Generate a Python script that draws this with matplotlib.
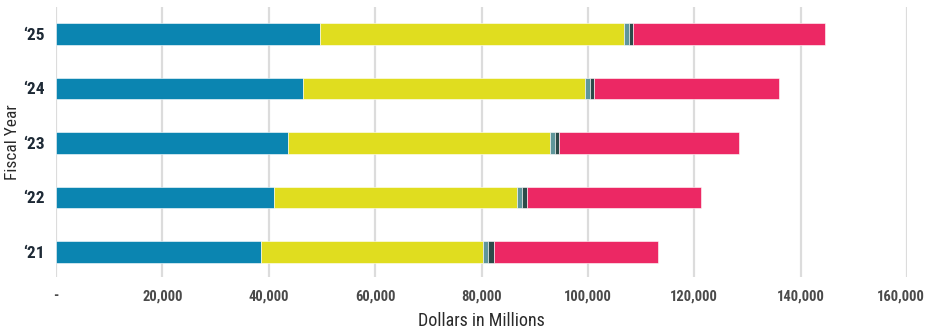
import matplotlib
matplotlib.use("Agg")
import matplotlib.pyplot as plt
from matplotlib import font_manager
import matplotlib.transforms as mtransforms
import numpy as np

years = ["\u201821", "\u201822", "\u201823", "\u201824", "\u201825"]
seg_blue = [38.5, 41.0, 43.6, 46.4, 49.6]
seg_yellow = [41.8, 45.6, 49.3, 53.0, 57.2]
seg_gray = [0.9, 1.0, 0.9, 1.0, 1.0]
seg_dark = [1.1, 1.0, 0.8, 0.7, 0.7]
seg_pink = [30.9, 32.6, 33.8, 34.8, 36.0]
series = [seg_blue, seg_yellow, seg_gray, seg_dark, seg_pink]
colors = ["#0b85b1", "#e0dd1f", "#5f969b", "#2c4b49", "#ec2864"]
xticks = [0, 20000, 40000, 60000, 80000, 100000, 120000, 140000, 160000]
xticklabels = ["-", "20,000", "40,000", "60,000", "80,000", "100,000", "120,000", "140,000", "160,000"]

avail = {f.name for f in font_manager.fontManager.ttflist}
fam = "Roboto"
for cand in ["Roboto Condensed", "Liberation Sans Narrow", "Open Sans Condensed", "Roboto"]:
    if cand in avail:
        fam = cand
        break

fig = plt.figure(figsize=(9.27, 3.35), dpi=100)
ax = fig.add_axes([56 / 927, 1 - 277 / 335, (907 - 56) / 927, (277 - 7) / 335])

y = np.arange(len(years))
left = np.zeros(len(years))
for vals, c in zip(series, colors):
    v = np.array(vals) * 1000
    ax.barh(y, v, left=left, height=0.40, color=c, edgecolor="white", linewidth=0.4, zorder=3)
    left += v

ax.set_xlim(0, 160000)
ax.set_ylim(-0.459, 4.495)
ax.set_xticks(xticks)
ax.set_xticklabels(xticklabels, fontsize=10.5, fontweight="bold", color="#4a4a4a", family=fam)
ax.set_yticks(y)
ax.set_yticklabels(years, fontsize=12.5, fontweight="bold", color="#1e2a36", family=fam)
ax.tick_params(axis="both", length=0)
ax.tick_params(axis="x", pad=9)
ax.tick_params(axis="y", pad=8)
for s in ax.spines.values():
    s.set_visible(False)
ax.grid(axis="x", color="#dcdcdc", linewidth=1.6, zorder=0)
ax.set_axisbelow(True)
ax.set_xlabel("Dollars in Millions", fontsize=13, color="#2a2a2a", family=fam, labelpad=6)
ax.yaxis.set_label_coords(-36 / 851, 0.544)
ax.set_ylabel("Fiscal Year", fontsize=12.5, color="#2a2a2a", family=fam)

last = ax.get_xticklabels()[-1]
last.set_transform(last.get_transform() + mtransforms.ScaledTranslation(-6 / 100, 0, fig.dpi_scale_trans))

fig.savefig("out.png", dpi=100)
